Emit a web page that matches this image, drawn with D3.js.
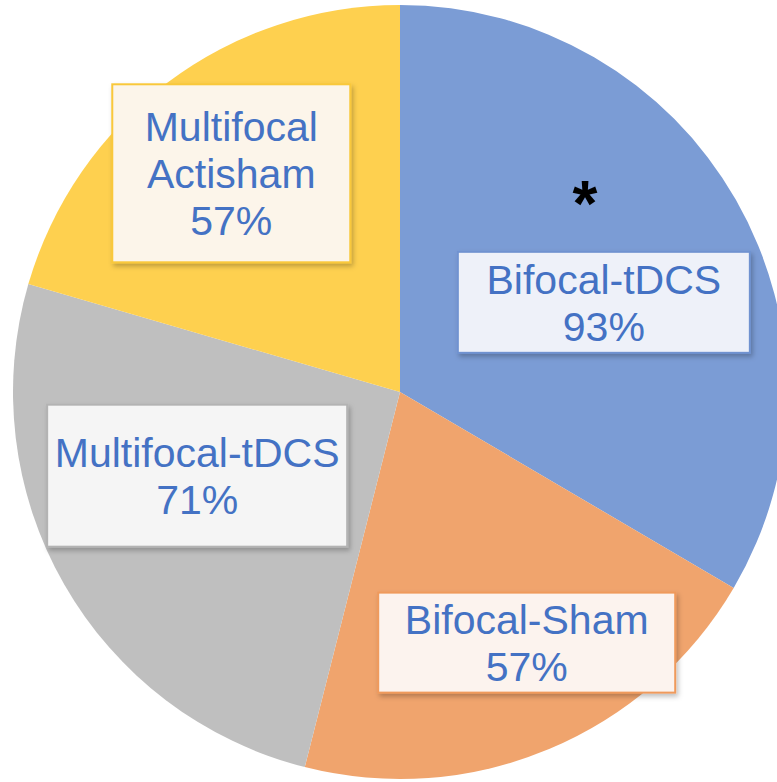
<!DOCTYPE html>
<html>
<head>
<meta charset="utf-8">
<script src="https://cdn.jsdelivr.net/npm/d3@7"></script>
<style>
  html, body { margin: 0; padding: 0; background: #fff; }
  svg { display: block; }
</style>
</head>
<body>
<div id="chart"></div>
<script>
// Data
const categories = ["Bifocal-tDCS", "Bifocal-Sham", "Multifocal-tDCS", "Multifocal\nActisham"];
const values = [93, 57, 71, 57];
const labels = ["93%", "57%", "71%", "57%"];
const significant = [true, false, false, false];

// Styles
const fills = ["#7b9cd5", "#f0a46d", "#bfbfbf", "#fed04f"];
const boxFills = ["#eef1f9", "#fcf3ee", "#f5f5f5", "#fcf5ea"];
const boxStrokes = ["#6f92d0", "#ef9a5c", "#b3b3b3", "#f9c83a"];

// Layout: label box offsets from the arc centroid, and box sizes
const labelOffsets = [[-14, 35], [30, 19], [15, -41], [-18, -18]];
const boxSizes = [[292, 101], [297, 100], [300, 142], [238, 178]];

const W = 777, H = 782;
const cx = 400, cy = 392, r = 387;
const lineH = 47, fontSize = 41;

const svg = d3.select("#chart")
  .append("svg")
    .attr("width", W)
    .attr("height", H);

// Drop shadow for label boxes
const defs = svg.append("defs");
const f = defs.append("filter").attr("id", "shadow")
  .attr("x", "-10%").attr("y", "-10%").attr("width", "130%").attr("height", "130%");
f.append("feDropShadow")
  .attr("dx", 2).attr("dy", 3).attr("stdDeviation", 2.5)
  .attr("flood-color", "#000").attr("flood-opacity", 0.25);

const g = svg.append("g").attr("transform", `translate(${cx},${cy})`);

const pie = d3.pie().sort(null).value(d => d);
const arcs = pie(values);

const arc = d3.arc().innerRadius(0).outerRadius(r);
const labelArc = d3.arc().innerRadius(251).outerRadius(251);

g.selectAll("path.slice")
  .data(arcs)
  .join("path")
    .attr("class", "slice")
    .attr("d", arc)
    .attr("fill", (d, i) => fills[i]);

// Labels
const lab = g.selectAll("g.label")
  .data(arcs)
  .join("g")
    .attr("class", "label")
    .attr("transform", (d, i) => {
      const [x, y] = labelArc.centroid(d);
      return `translate(${x + labelOffsets[i][0]},${y + labelOffsets[i][1]})`;
    });

lab.append("rect")
  .attr("x", (d, i) => -boxSizes[i][0] / 2)
  .attr("y", (d, i) => -boxSizes[i][1] / 2)
  .attr("width", (d, i) => boxSizes[i][0])
  .attr("height", (d, i) => boxSizes[i][1])
  .attr("fill", (d, i) => boxFills[i])
  .attr("stroke", (d, i) => boxStrokes[i])
  .attr("stroke-width", 2)
  .attr("filter", "url(#shadow)");

lab.each(function(d, i) {
  const lines = categories[i].split("\n").concat([labels[i]]);
  const n = lines.length;
  const t = d3.select(this).append("text")
    .attr("text-anchor", "middle")
    .attr("font-family", "'Liberation Sans', Arial, sans-serif")
    .attr("font-size", fontSize)
    .attr("fill", "#4472c4");
  lines.forEach((s, k) => {
    t.append("tspan")
      .attr("x", 0)
      .attr("y", (k - (n - 1) / 2) * lineH + fontSize * 0.36)
      .text(s);
  });
  if (significant[i]) {
    d3.select(this).append("text")
      .attr("x", -19)
      .attr("y", -110 + 34)
      .attr("text-anchor", "middle")
      .attr("font-family", "'Liberation Sans', Arial, sans-serif")
      .attr("font-weight", "bold")
      .attr("font-size", 64)
      .attr("fill", "#000")
      .text("*");
  }
});
</script>
</body>
</html>
